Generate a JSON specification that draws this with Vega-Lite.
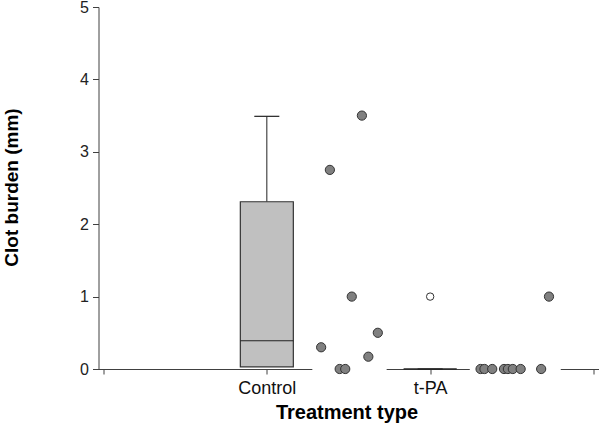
{
  "$schema": "https://vega.github.io/schema/vega-lite/v6.json",
  "width": 500,
  "height": 362,
  "autosize": {"type": "none"},
  "padding": {"left": 98.5, "top": 7, "right": 1.5, "bottom": 54},
  "background": "white",
  "config": {"view": {"stroke": null}, "font": "Liberation Sans"},
  "datasets": {
    "gaps": [
      {"group": "Control", "start": 2.557, "end": 3.467},
      {"group": "t-PA", "start": 4.485, "end": 5.599}
    ],
    "boxes": [
      {"group": "Control", "pos": 2, "lower": 0, "q1": 0.03, "median": 0.39, "q3": 2.31, "upper": 3.49},
      {"group": "t-PA", "pos": 4, "lower": 0, "q1": 0, "median": 0, "q3": 0, "upper": 0}
    ],
    "outliers": [
      {"group": "t-PA", "pos": 4, "value": 1.0}
    ],
    "points": [
      {"group": "Control", "pos": 3.164, "value": 3.5},
      {"group": "Control", "pos": 2.772, "value": 2.75},
      {"group": "Control", "pos": 3.04, "value": 1.0},
      {"group": "Control", "pos": 3.359, "value": 0.5},
      {"group": "Control", "pos": 2.665, "value": 0.3},
      {"group": "Control", "pos": 3.243, "value": 0.17},
      {"group": "Control", "pos": 2.892, "value": 0},
      {"group": "Control", "pos": 2.96, "value": 0},
      {"group": "t-PA", "pos": 4.617, "value": 0},
      {"group": "t-PA", "pos": 4.665, "value": 0},
      {"group": "t-PA", "pos": 4.76, "value": 0},
      {"group": "t-PA", "pos": 4.904, "value": 0},
      {"group": "t-PA", "pos": 4.952, "value": 0},
      {"group": "t-PA", "pos": 5.012, "value": 0},
      {"group": "t-PA", "pos": 5.108, "value": 0},
      {"group": "t-PA", "pos": 5.359, "value": 0},
      {"group": "t-PA", "pos": 5.455, "value": 1.0}
    ]
  },
  "layer": [
    {
      "data": {"name": "boxes"},
      "mark": {"type": "rule", "color": "#222", "strokeWidth": 1},
      "encoding": {
        "x": {
          "field": "pos", "type": "quantitative", "scale": {"domain": [0, 6], "nice": false, "zero": false},
          "title": "Treatment type",
          "axis": {
            "values": [0, 2, 4, 6],
            "labelExpr": "datum.value == 2 ? 'Control' : (datum.value == 4 ? 't-PA' : '')",
            "grid": false,
            "domainColor": "#404040", "tickColor": "#404040", "tickSize": 5,
            "labelFont": "Liberation Sans", "labelFontSize": 18, "labelColor": "#111",
            "labelBaseline": "alphabetic", "labelPadding": 19, "labelFlush": false, "labelOverlap": false,
            "titleFont": "Liberation Sans", "titleFontSize": 20, "titleFontWeight": "bold", "titleColor": "#000",
            "titleX": 248, "titleY": 49, "titleBaseline": "alphabetic", "titleAlign": "center"
          }
        },
        "y": {
          "field": "q3", "type": "quantitative", "scale": {"domain": [0, 5], "nice": false},
          "title": "Clot burden (mm)",
          "axis": {
            "values": [0, 0.5, 1, 1.5, 2, 2.5, 3, 3.5, 4, 4.5, 5],
            "labelExpr": "datum.value % 1 == 0 ? format(datum.value, 'd') : ''",
            "grid": false,
            "domainColor": "#404040", "tickColor": "#404040", "tickSize": 6,
            "labelFont": "Liberation Sans", "labelFontSize": 16, "labelColor": "#222", "labelPadding": 4,
            "labelOverlap": false, "labelFlush": false,
            "titleFont": "Liberation Sans", "titleFontSize": 19, "titleFontWeight": "bold", "titleColor": "#000",
            "titleX": -87, "titleY": 180, "titleAngle": -90, "titleBaseline": "middle", "titleAlign": "center"
          }
        },
        "y2": {"field": "upper"}
      }
    },
    {
      "data": {"name": "gaps"},
      "mark": {"type": "rect", "fill": "white", "stroke": null},
      "encoding": {
        "x": {"field": "start", "type": "quantitative", "title": "Treatment type"},
        "x2": {"field": "end"},
        "y": {"datum": -0.03, "type": "quantitative"},
        "y2": {"datum": 0.03}
      }
    },
    {
      "data": {"name": "boxes"},
      "mark": {"type": "bar", "size": 53, "fill": "#c0c0c0", "stroke": "#333", "strokeWidth": 1.2},
      "encoding": {
        "x": {"field": "pos", "type": "quantitative", "title": "Treatment type"},
        "y": {"field": "q1", "type": "quantitative", "title": "Clot burden (mm)"},
        "y2": {"field": "q3"}
      }
    },
    {
      "data": {"name": "boxes"},
      "mark": {"type": "tick", "orient": "horizontal", "size": 53, "thickness": 1.2, "color": "#222", "opacity": 1},
      "encoding": {
        "x": {"field": "pos", "type": "quantitative", "title": "Treatment type"},
        "y": {"field": "median", "type": "quantitative", "title": "Clot burden (mm)"}
      }
    },
    {
      "data": {"name": "boxes"},
      "mark": {"type": "tick", "orient": "horizontal", "size": 25, "thickness": 1.2, "color": "#222", "opacity": 1},
      "encoding": {
        "x": {"field": "pos", "type": "quantitative", "title": "Treatment type"},
        "y": {"field": "upper", "type": "quantitative", "title": "Clot burden (mm)"}
      }
    },
    {
      "data": {"name": "outliers"},
      "mark": {"type": "point", "shape": "circle", "filled": true, "fill": "white", "stroke": "#333", "strokeWidth": 1, "size": 55, "opacity": 1},
      "encoding": {
        "x": {"field": "pos", "type": "quantitative", "title": "Treatment type"},
        "y": {"field": "value", "type": "quantitative", "title": "Clot burden (mm)"}
      }
    },
    {
      "data": {"name": "points"},
      "mark": {"type": "point", "shape": "circle", "filled": true, "fill": "#808080", "stroke": "#333", "strokeWidth": 1, "size": 85, "opacity": 1},
      "encoding": {
        "x": {"field": "pos", "type": "quantitative", "title": "Treatment type"},
        "y": {"field": "value", "type": "quantitative", "title": "Clot burden (mm)"}
      }
    }
  ]
}
